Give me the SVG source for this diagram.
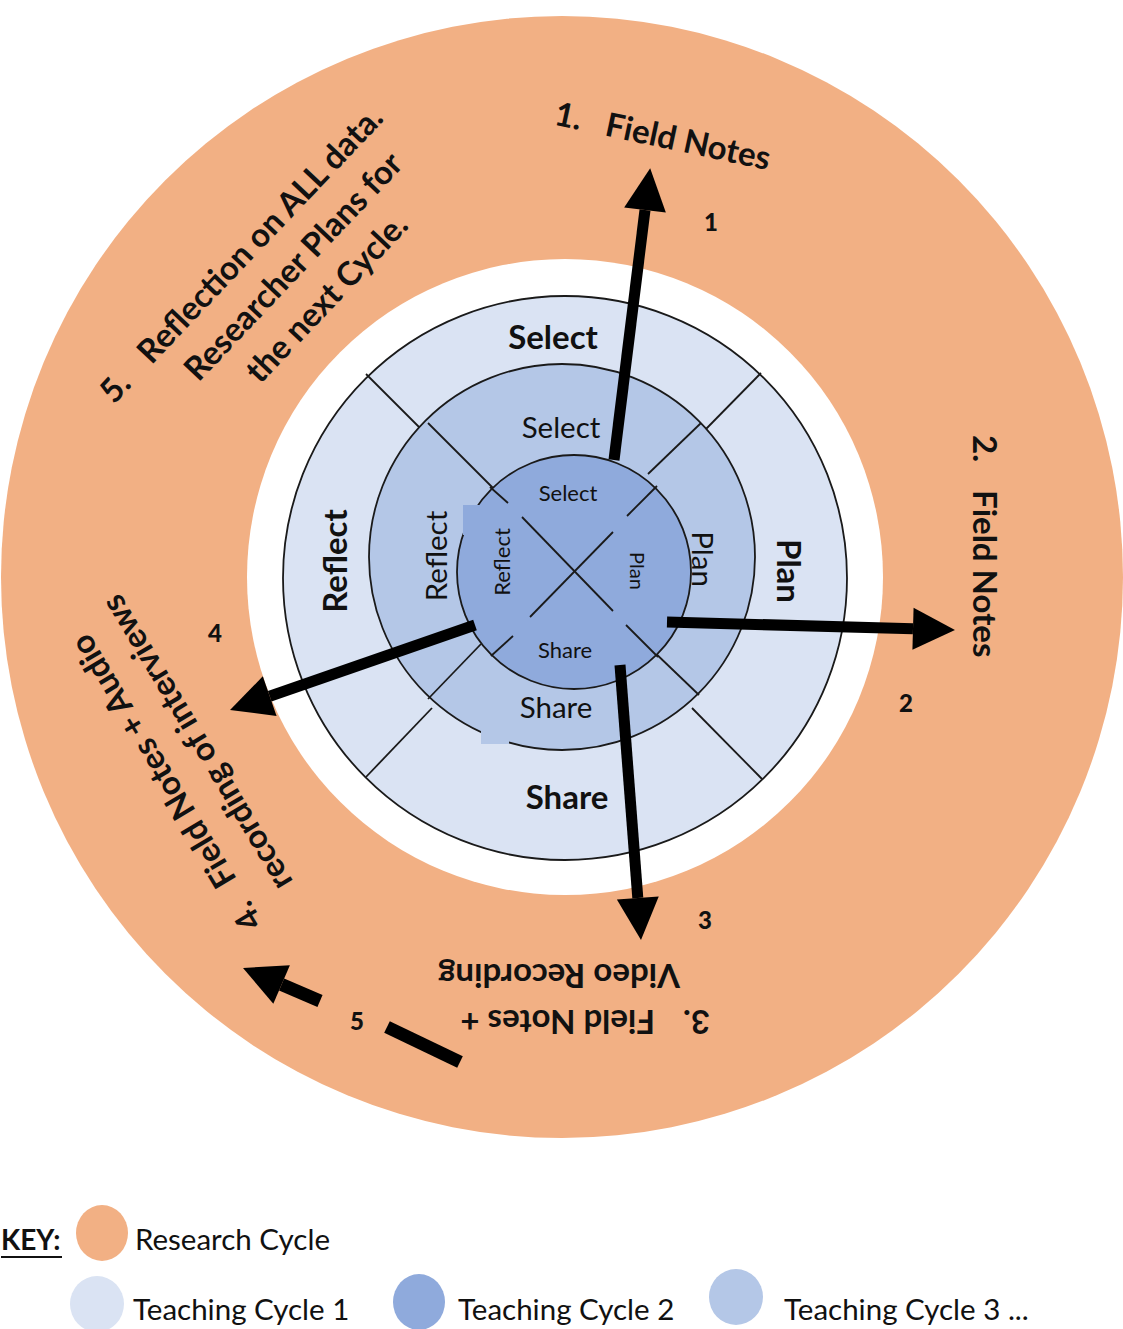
<svg xmlns="http://www.w3.org/2000/svg" width="1123" height="1329" viewBox="0 0 1123 1329">
<style>
.t{font-family:Lato,"Liberation Sans",sans-serif;fill:#111}
.b{font-weight:bold}
.big{font-size:33px;font-weight:bold}
.mid{font-size:29.5px}
.sm{font-size:22px}
.num{font-size:24px;font-weight:900}
.out{font-size:33px;font-weight:bold}
.key{font-size:29.5px}
.ln{stroke:#1a1a1a;stroke-width:1.8;fill:none}
.ring{stroke:#1a1a1a;stroke-width:1.8}
.arr{stroke:#000;stroke-width:11;fill:none}
</style>
<defs>
<marker id="ah" markerUnits="userSpaceOnUse" markerWidth="46" markerHeight="46" refX="0" refY="21" orient="auto" overflow="visible">
<path d="M0,0 L42,21 L0,42 z" fill="#000"/>
</marker>
</defs>
<rect width="1123" height="1329" fill="#fff"/>

<g id="research-cycle">
<circle cx="562" cy="577" r="561" fill="#F2B084"/>
<circle cx="565" cy="577" r="318" fill="#fff"/>
</g>

<g id="teaching-cycle-1">
<circle class="ring" cx="565" cy="578" r="282" fill="#DAE3F3"/>
<line class="ln" x1="366" y1="374" x2="420" y2="428"/>
<line class="ln" x1="706" y1="429" x2="761" y2="373"/>
<line class="ln" x1="366" y1="777" x2="432" y2="708"/>
<line class="ln" x1="692" y1="708" x2="762" y2="779"/>
<text class="t big" x="553" y="349" text-anchor="middle">Select</text>
<text class="t big" transform="translate(777,571) rotate(90)" text-anchor="middle">Plan</text>
<text class="t big" x="567" y="809" text-anchor="middle">Share</text>
<text class="t big" transform="translate(347,561) rotate(-90)" text-anchor="middle">Reflect</text>
</g>

<g id="teaching-cycle-3">
<circle class="ring" cx="562" cy="557" r="193" fill="#B4C7E7"/>
<rect x="481" y="716" width="28" height="28" fill="#B4C7E7"/>
<line class="ln" x1="428" y1="423" x2="508" y2="503"/>
<line class="ln" x1="648" y1="474" x2="701" y2="423"/>
<line class="ln" x1="428" y1="699" x2="481" y2="644"/>
<line class="ln" x1="626" y1="625" x2="699" y2="695"/>
<text class="t mid" x="561" y="438" text-anchor="middle">Select</text>
<text class="t mid" transform="translate(692,559) rotate(90)" text-anchor="middle">Plan</text>
<text class="t mid" x="556" y="718" text-anchor="middle">Share</text>
<text class="t mid" transform="translate(447,556) rotate(-90)" text-anchor="middle">Reflect</text>
</g>

<g id="teaching-cycle-2">
<circle class="ring" cx="574" cy="572" r="117" fill="#8FAADC"/>
<rect x="463" y="505" width="24" height="30" fill="#8FAADC"/>
<line class="ln" x1="490" y1="487" x2="508" y2="503"/>
<line class="ln" x1="522" y1="517" x2="613" y2="611"/>
<line class="ln" x1="530" y1="617" x2="613" y2="532"/>
<line class="ln" x1="627" y1="516" x2="657" y2="486"/>
<line class="ln" x1="491" y1="656" x2="513" y2="636"/>
<line class="ln" x1="626" y1="625" x2="658" y2="657"/>
<text class="t sm" x="568" y="501" text-anchor="middle">Select</text>
<text class="t" style="font-size:20px" transform="translate(630,571) rotate(90)" text-anchor="middle">Plan</text>
<text class="t sm" x="565" y="658" text-anchor="middle">Share</text>
<text class="t sm" transform="translate(510,562) rotate(-90)" text-anchor="middle">Reflect</text>
</g>

<g id="connectors">
<line class="arr" x1="614" y1="460" x2="645" y2="210" marker-end="url(#ah)"/>
<line class="arr" x1="667" y1="622" x2="913" y2="628.8" marker-end="url(#ah)"/>
<line class="arr" x1="620" y1="665" x2="637.8" y2="898" marker-end="url(#ah)"/>
<line class="arr" x1="475" y1="625" x2="269.7" y2="696.2" marker-end="url(#ah)"/>
<line class="arr" style="stroke-width:13" x1="320" y1="1001" x2="281.6" y2="984.5" marker-end="url(#ah)"/>
<line class="arr" style="stroke-width:13" x1="387" y1="1027" x2="460" y2="1062"/>
<text class="t num" x="711" y="231" text-anchor="middle">1</text>
<text class="t num" x="906" y="712" text-anchor="middle">2</text>
<text class="t num" x="705" y="929" text-anchor="middle">3</text>
<text class="t num" x="215" y="642" text-anchor="middle">4</text>
<text class="t num" x="357" y="1030" text-anchor="middle">5</text>
</g>

<g id="step-1">
<g transform="translate(553,124.5) rotate(12)">
<text class="t out" x="0" y="0">1.</text>
<text class="t out" x="52" y="0">Field Notes</text>
</g>
</g>
<g id="step-2">
<g transform="translate(973,435) rotate(90)">
<text class="t out" x="0" y="0">2.</text>
<text class="t out" x="55" y="0">Field Notes</text>
</g>
</g>
<g id="step-3">
<g transform="translate(710,1010) rotate(180)">
<text class="t out" x="0" y="0">3.</text>
<text class="t out" x="55" y="0">Field Notes +</text>
<text class="t out" x="30" y="46">Video Recording</text>
</g>
</g>
<g id="step-4">
<g transform="translate(263,922) rotate(-121)">
<text class="t out" x="0" y="0">4.</text>
<text class="t out" x="50" y="0">Field Notes + Audio</text>
<text class="t out" x="19" y="47">recording of interviews</text>
</g>
</g>
<g id="step-5">
<g transform="translate(114,405) rotate(-46.5)">
<text class="t out" x="0" y="0">5.</text>
<text class="t out" x="224" y="0" text-anchor="middle">Reflection on ALL data.</text>
<text class="t out" x="224" y="46" text-anchor="middle">Researcher Plans for</text>
<text class="t out" x="224" y="92" text-anchor="middle">the next Cycle.</text>
</g>
</g>

<g id="key">
<text class="t b" style="font-size:28px" x="1" y="1250">KEY:</text>
<line x1="1" y1="1257" x2="62" y2="1257" stroke="#111" stroke-width="2"/>
<ellipse cx="102" cy="1233" rx="26" ry="28" fill="#F2B084"/>
<text class="t key" x="135" y="1250">Research Cycle</text>
<ellipse cx="97" cy="1304" rx="27" ry="28" fill="#DAE3F3"/>
<text class="t key" x="133" y="1320">Teaching Cycle 1</text>
<ellipse cx="419" cy="1302" rx="26" ry="28" fill="#8FAADC"/>
<text class="t key" x="458" y="1320">Teaching Cycle 2</text>
<ellipse cx="736" cy="1297" rx="27" ry="28" fill="#B4C7E7"/>
<text class="t key" x="784" y="1320">Teaching Cycle 3 ...</text>
</g>
</svg>
